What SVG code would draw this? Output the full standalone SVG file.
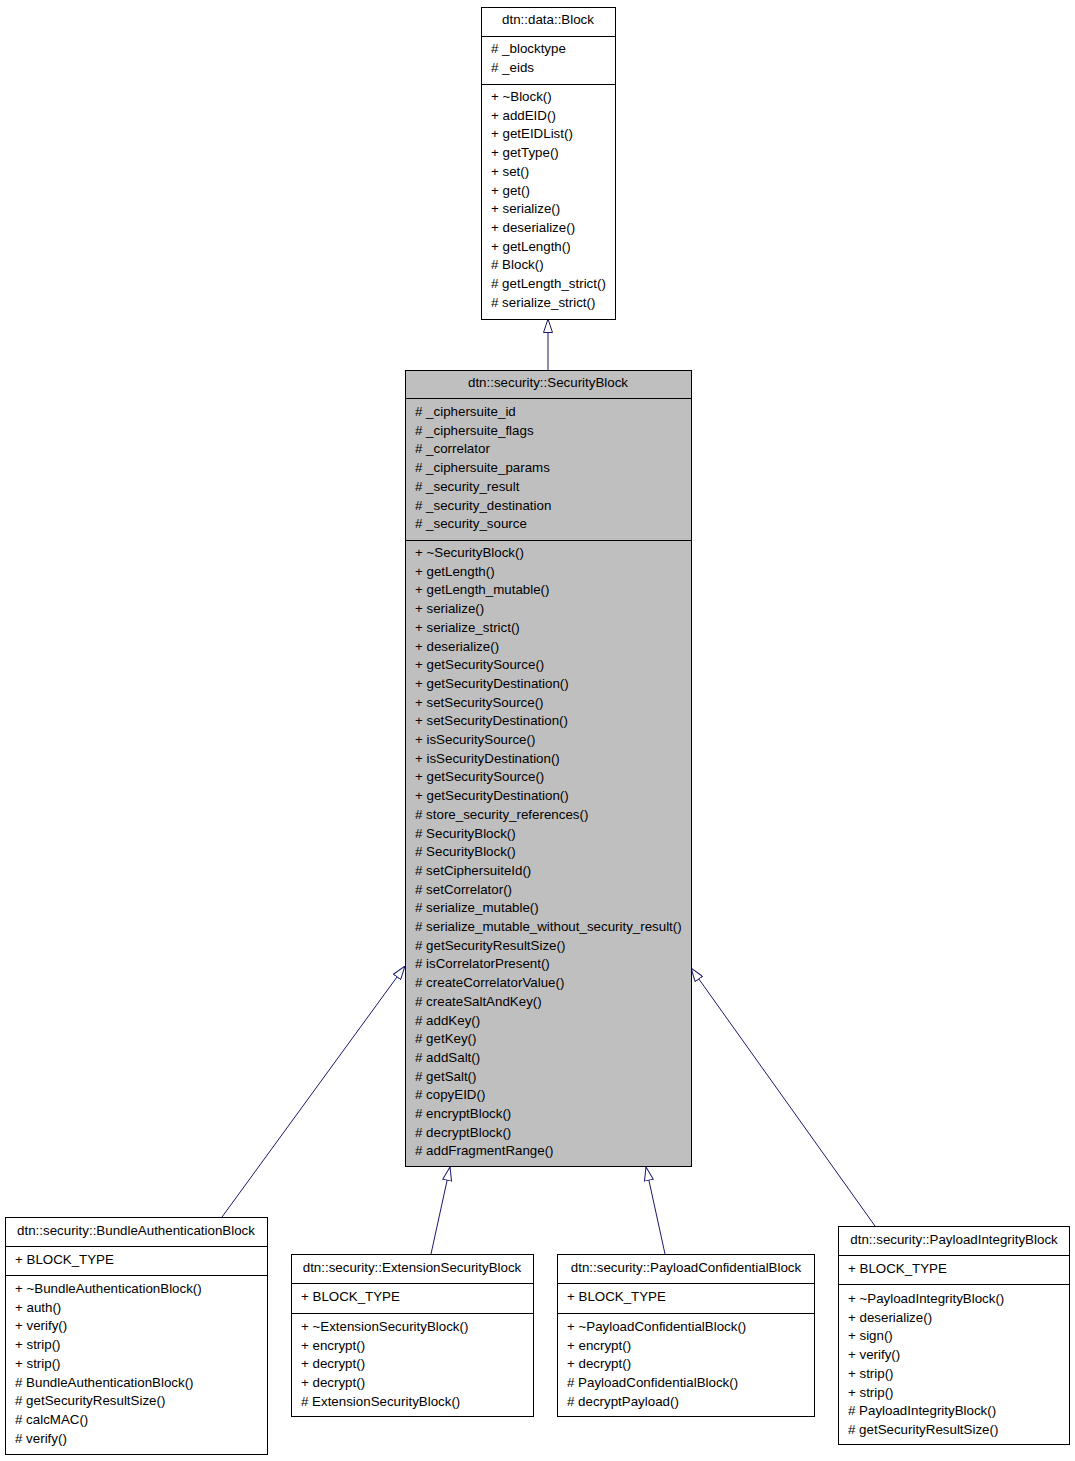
<svg xmlns="http://www.w3.org/2000/svg" width="1075" height="1461" viewBox="0 0 1075 1461">
<style>
text{font-family:"Liberation Sans",Arial,Helvetica,sans-serif;font-size:13.33px;fill:#000}
.t{text-anchor:middle}
.box{fill:#fff;stroke:#000;stroke-width:1}
.cur{fill:#bfbfbf;stroke:#000;stroke-width:1}
.sep{stroke:#000;stroke-width:1}
.edge{fill:none;stroke:#191970;stroke-width:1}
</style>
<defs>
<marker id="inh" viewBox="0 0 14 10" refX="14" refY="5" markerWidth="14" markerHeight="10" markerUnits="userSpaceOnUse" orient="auto">
<path d="M0.5,0.5 L14,5 L0.5,9.5 Z" fill="#fff" stroke="#191970" stroke-width="1"/>
</marker>
</defs>
<rect width="1075" height="1461" fill="#fff"/>
<g id="connectors">
<path class="edge" d="M548,370 L548,319" marker-end="url(#inh)"/>
<path class="edge" d="M222,1217 L405,966" marker-end="url(#inh)"/>
<path class="edge" d="M431,1254 L450,1167" marker-end="url(#inh)"/>
<path class="edge" d="M665,1254 L646,1167" marker-end="url(#inh)"/>
<path class="edge" d="M875,1226 L691,968" marker-end="url(#inh)"/>
</g>
<g id="Block">
<rect class="box" x="481.5" y="7.5" width="134" height="312"/>
<line class="sep" x1="481.5" y1="36.5" x2="615.5" y2="36.5"/>
<line class="sep" x1="481.5" y1="84.5" x2="615.5" y2="84.5"/>
<text class="t" x="548" y="24">dtn::data::Block</text>
<text x="491" y="53"># _blocktype</text>
<text x="491" y="72"># _eids</text>
<text x="491" y="101">+ ~Block()</text>
<text x="491" y="119.7">+ addEID()</text>
<text x="491" y="138.4">+ getEIDList()</text>
<text x="491" y="157.1">+ getType()</text>
<text x="491" y="175.8">+ set()</text>
<text x="491" y="194.5">+ get()</text>
<text x="491" y="213.2">+ serialize()</text>
<text x="491" y="231.9">+ deserialize()</text>
<text x="491" y="250.6">+ getLength()</text>
<text x="491" y="269.3"># Block()</text>
<text x="491" y="288"># getLength_strict()</text>
<text x="491" y="306.7"># serialize_strict()</text>
</g>
<g id="SecurityBlock">
<rect class="cur" x="405.5" y="370.5" width="286" height="796"/>
<line class="sep" x1="405.5" y1="398.5" x2="691.5" y2="398.5"/>
<line class="sep" x1="405.5" y1="540.5" x2="691.5" y2="540.5"/>
<text class="t" x="548" y="387">dtn::security::SecurityBlock</text>
<text x="415" y="416"># _ciphersuite_id</text>
<text x="415" y="434.7"># _ciphersuite_flags</text>
<text x="415" y="453.4"># _correlator</text>
<text x="415" y="472.1"># _ciphersuite_params</text>
<text x="415" y="490.8"># _security_result</text>
<text x="415" y="509.5"># _security_destination</text>
<text x="415" y="528.2"># _security_source</text>
<text x="415" y="557">+ ~SecurityBlock()</text>
<text x="415" y="575.7">+ getLength()</text>
<text x="415" y="594.4">+ getLength_mutable()</text>
<text x="415" y="613.1">+ serialize()</text>
<text x="415" y="631.8">+ serialize_strict()</text>
<text x="415" y="650.5">+ deserialize()</text>
<text x="415" y="669.2">+ getSecuritySource()</text>
<text x="415" y="687.9">+ getSecurityDestination()</text>
<text x="415" y="706.6">+ setSecuritySource()</text>
<text x="415" y="725.3">+ setSecurityDestination()</text>
<text x="415" y="744">+ isSecuritySource()</text>
<text x="415" y="762.7">+ isSecurityDestination()</text>
<text x="415" y="781.4">+ getSecuritySource()</text>
<text x="415" y="800.1">+ getSecurityDestination()</text>
<text x="415" y="818.8"># store_security_references()</text>
<text x="415" y="837.5"># SecurityBlock()</text>
<text x="415" y="856.2"># SecurityBlock()</text>
<text x="415" y="874.9"># setCiphersuiteId()</text>
<text x="415" y="893.6"># setCorrelator()</text>
<text x="415" y="912.3"># serialize_mutable()</text>
<text x="415" y="931"># serialize_mutable_without_security_result()</text>
<text x="415" y="949.7"># getSecurityResultSize()</text>
<text x="415" y="968.4"># isCorrelatorPresent()</text>
<text x="415" y="987.1"># createCorrelatorValue()</text>
<text x="415" y="1005.8"># createSaltAndKey()</text>
<text x="415" y="1024.5"># addKey()</text>
<text x="415" y="1043.2"># getKey()</text>
<text x="415" y="1061.9"># addSalt()</text>
<text x="415" y="1080.6"># getSalt()</text>
<text x="415" y="1099.3"># copyEID()</text>
<text x="415" y="1118"># encryptBlock()</text>
<text x="415" y="1136.7"># decryptBlock()</text>
<text x="415" y="1155.4"># addFragmentRange()</text>
</g>
<g id="BundleAuthenticationBlock">
<rect class="box" x="5.5" y="1217.5" width="262" height="237"/>
<line class="sep" x1="5.5" y1="1246.5" x2="267.5" y2="1246.5"/>
<line class="sep" x1="5.5" y1="1275.5" x2="267.5" y2="1275.5"/>
<text class="t" x="136" y="1235">dtn::security::BundleAuthenticationBlock</text>
<text x="15" y="1264">+ BLOCK_TYPE</text>
<text x="15" y="1293">+ ~BundleAuthenticationBlock()</text>
<text x="15" y="1311.7">+ auth()</text>
<text x="15" y="1330.4">+ verify()</text>
<text x="15" y="1349.1">+ strip()</text>
<text x="15" y="1367.8">+ strip()</text>
<text x="15" y="1386.5"># BundleAuthenticationBlock()</text>
<text x="15" y="1405.2"># getSecurityResultSize()</text>
<text x="15" y="1423.9"># calcMAC()</text>
<text x="15" y="1442.6"># verify()</text>
</g>
<g id="ExtensionSecurityBlock">
<rect class="box" x="291.5" y="1254.5" width="242" height="162"/>
<line class="sep" x1="291.5" y1="1283.5" x2="533.5" y2="1283.5"/>
<line class="sep" x1="291.5" y1="1313.5" x2="533.5" y2="1313.5"/>
<text class="t" x="412" y="1272">dtn::security::ExtensionSecurityBlock</text>
<text x="301" y="1301">+ BLOCK_TYPE</text>
<text x="301" y="1331">+ ~ExtensionSecurityBlock()</text>
<text x="301" y="1349.7">+ encrypt()</text>
<text x="301" y="1368.4">+ decrypt()</text>
<text x="301" y="1387.1">+ decrypt()</text>
<text x="301" y="1405.8"># ExtensionSecurityBlock()</text>
</g>
<g id="PayloadConfidentialBlock">
<rect class="box" x="557.5" y="1254.5" width="257" height="162"/>
<line class="sep" x1="557.5" y1="1283.5" x2="814.5" y2="1283.5"/>
<line class="sep" x1="557.5" y1="1313.5" x2="814.5" y2="1313.5"/>
<text class="t" x="686" y="1272">dtn::security::PayloadConfidentialBlock</text>
<text x="567" y="1301">+ BLOCK_TYPE</text>
<text x="567" y="1331">+ ~PayloadConfidentialBlock()</text>
<text x="567" y="1349.7">+ encrypt()</text>
<text x="567" y="1368.4">+ decrypt()</text>
<text x="567" y="1387.1"># PayloadConfidentialBlock()</text>
<text x="567" y="1405.8"># decryptPayload()</text>
</g>
<g id="PayloadIntegrityBlock">
<rect class="box" x="838.5" y="1226.5" width="231" height="218"/>
<line class="sep" x1="838.5" y1="1255.5" x2="1069.5" y2="1255.5"/>
<line class="sep" x1="838.5" y1="1284.5" x2="1069.5" y2="1284.5"/>
<text class="t" x="954" y="1244">dtn::security::PayloadIntegrityBlock</text>
<text x="848" y="1273">+ BLOCK_TYPE</text>
<text x="848" y="1303">+ ~PayloadIntegrityBlock()</text>
<text x="848" y="1321.7">+ deserialize()</text>
<text x="848" y="1340.4">+ sign()</text>
<text x="848" y="1359.1">+ verify()</text>
<text x="848" y="1377.8">+ strip()</text>
<text x="848" y="1396.5">+ strip()</text>
<text x="848" y="1415.2"># PayloadIntegrityBlock()</text>
<text x="848" y="1433.9"># getSecurityResultSize()</text>
</g>
</svg>
